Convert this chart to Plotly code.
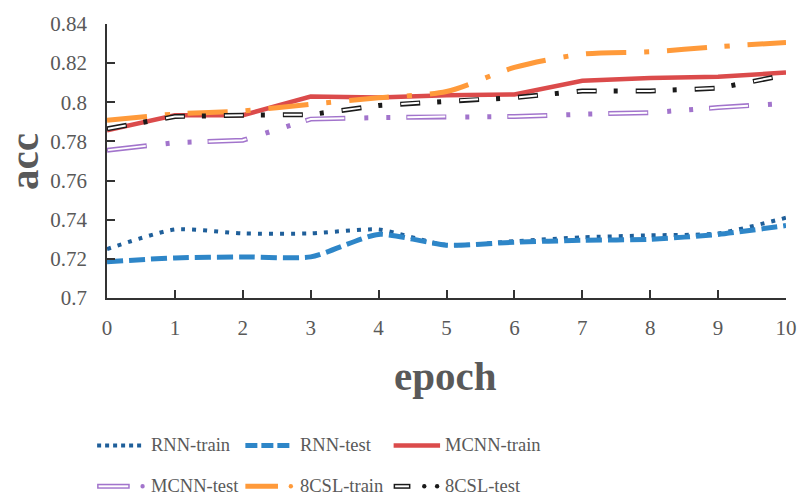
import plotly.graph_objects as go

# ---- data -------------------------------------------------------------
epochs = list(range(11))
x_tick_text = [str(e) for e in epochs]
y_tick_vals = [0.70, 0.72, 0.74, 0.76, 0.78, 0.80, 0.82, 0.84]
y_tick_text = ["0.7", "0.72", "0.74", "0.76", "0.78", "0.8", "0.82", "0.84"]

series_names = ["RNN-train", "RNN-test", "MCNN-train", "MCNN-test", "8CSL-train", "8CSL-test"]

rnn_train = [0.725, 0.735, 0.733, 0.733, 0.735, 0.727, 0.729, 0.731, 0.732, 0.733, 0.741]
rnn_test = [0.7185, 0.7205, 0.721, 0.721, 0.7325, 0.727, 0.7285, 0.7295, 0.730, 0.7325, 0.737]
mcnn_train = [0.7857, 0.7934, 0.7934, 0.8029, 0.8024, 0.8036, 0.804, 0.811, 0.8124, 0.813, 0.8152]
mcnn_test = [0.7755, 0.7794, 0.7806, 0.7914, 0.7922, 0.7927, 0.7927, 0.7939, 0.7947, 0.7973, 0.7995]
csl_train = [0.7908, 0.794, 0.7956, 0.799, 0.8023, 0.8055, 0.8178, 0.8246, 0.8258, 0.8284, 0.8306]
csl_test = [0.7864, 0.7927, 0.7934, 0.7937, 0.7984, 0.8007, 0.8024, 0.8058, 0.8058, 0.8072, 0.8140]

# ---- styles -----------------------------------------------------------
C_RNN_TRAIN = "#1F5F9A"
C_RNN_TEST = "#2E86C8"
C_MCNN_TRAIN = "#DB4B4B"
C_MCNN_TEST = "#A274CC"
C_CSL_TRAIN = "#FF9A3A"
C_CSL_TEST = "#1A1A1A"
TXT = "#595959"
AXC = "#333333"
SERIF = "Liberation Serif, Times New Roman, serif"

# layout geometry (pixels)
W, H = 809, 499
ML, MR, MT, MB = 107, 15, 23, 201
PW, PH = W - ML - MR, H - MT - MB


def px(xp):
    return (xp - ML) / PW


def py(yp):
    return (MT + PH - yp) / PH


fig = go.Figure()


def add_line(y, color, width, dash, shape="linear", smoothing=1.0):
    fig.add_trace(go.Scatter(
        x=epochs, y=y, mode="lines", showlegend=False, hoverinfo="skip",
        line=dict(color=color, width=width, dash=dash, shape=shape,
                  smoothing=smoothing if shape == "spline" else None),
        cliponaxis=False,
    ))


# RNN
add_line(rnn_train, C_RNN_TRAIN, 4, "4px,7px", "spline", 0.6)
add_line(rnn_test, C_RNN_TEST, 5, "16px,6px", "spline", 0.6)
# MCNN
add_line(mcnn_train, C_MCNN_TRAIN, 4.5, "solid")
add_line(mcnn_test, C_MCNN_TEST, 5, "40px,19px,4px,18px,4px,16px")
add_line(mcnn_test, "white", 2, "0px,1px,38px,62px")
# 8CSL
add_line(csl_train, C_CSL_TRAIN, 5, "40px,18px,5px,18px", "spline", 0.8)
add_line(csl_test, C_CSL_TEST, 5, "20px,17px,4px,18px")
add_line(csl_test, "white", 2, "0px,1px,18px,40px")

# ---- legend (drawn with shapes + text) ----------------------------------
shapes = []
annotations = []


def seg(x0, x1, yy, color, width, dash="solid"):
    shapes.append(dict(type="line", xref="paper", yref="paper",
                       x0=px(x0), x1=px(x1), y0=py(yy), y1=py(yy),
                       line=dict(color=color, width=width, dash=dash)))


def dot(xc, yy, color, r=2.2):
    shapes.append(dict(type="circle", xref="paper", yref="paper",
                       x0=px(xc - r), x1=px(xc + r), y0=py(yy - r), y1=py(yy + r),
                       fillcolor=color, line=dict(width=0)))


row_y = [446, 487]
col_x = [97, 247, 397]
text_x = [149, 300, 447]

# row 1
seg(col_x[0], col_x[0] + 45, row_y[0], C_RNN_TRAIN, 4, "4px,4px")
seg(col_x[1], col_x[1] + 45, row_y[0], C_RNN_TEST, 5, "12px,4px")
seg(col_x[2], col_x[2] + 47, row_y[0], C_MCNN_TRAIN, 4.5)
# row 2
seg(col_x[0], col_x[0] + 33, row_y[1], C_MCNN_TEST, 5)
seg(col_x[0] + 1.5, col_x[0] + 31.5, row_y[1], "white", 2)
dot(col_x[0] + 46, row_y[1], C_MCNN_TEST)
seg(col_x[1], col_x[1] + 33, row_y[1], C_CSL_TRAIN, 5)
dot(col_x[1] + 46, row_y[1], C_CSL_TRAIN)
seg(col_x[2], col_x[2] + 17, row_y[1], C_CSL_TEST, 5)
seg(col_x[2] + 1.5, col_x[2] + 15.5, row_y[1], "white", 2)
dot(col_x[2] + 31, row_y[1], C_CSL_TEST)
dot(col_x[2] + 44, row_y[1], C_CSL_TEST)

for i, name in enumerate(series_names):
    r, c = divmod(i, 3)
    annotations.append(dict(
        text=name, xref="paper", yref="paper", x=px(text_x[c]), y=py(row_y[r]),
        xanchor="left", yanchor="middle", showarrow=False,
        font=dict(family=SERIF, size=18.5, color=TXT)))

# axis titles
annotations.append(dict(
    text="<b>acc</b>", xref="paper", yref="paper", x=px(23), y=py(160.5),
    xanchor="center", yanchor="middle", textangle=-90, showarrow=False,
    font=dict(family=SERIF, size=41, color=TXT)))
annotations.append(dict(
    text="<b>epoch</b>", xref="paper", yref="paper", x=px(449), y=py(376),
    xanchor="center", yanchor="middle", showarrow=False,
    font=dict(family=SERIF, size=41, color=TXT)))

fig.update_layout(
    width=W, height=H,
    margin=dict(l=ML, r=MR, t=MT, b=MB, pad=0),
    paper_bgcolor="white", plot_bgcolor="white",
    showlegend=False,
    shapes=shapes, annotations=annotations,
    xaxis=dict(
        range=[0, 10], tickvals=epochs, ticktext=x_tick_text,
        showgrid=False, zeroline=False,
        showline=True, linecolor=AXC, linewidth=1.5,
        ticks="inside", ticklen=8, tickwidth=1.5, tickcolor=AXC,
        ticklabelstandoff=10,
        tickfont=dict(family=SERIF, size=21, color=TXT),
    ),
    yaxis=dict(
        range=[0.7, 0.84], tickvals=y_tick_vals, ticktext=y_tick_text,
        showgrid=False, zeroline=False,
        showline=True, linecolor=AXC, linewidth=1.5,
        ticks="inside", ticklen=8, tickwidth=1.5, tickcolor=AXC,
        ticklabelstandoff=14,
        tickfont=dict(family=SERIF, size=21, color=TXT),
    ),
)

fig.write_html("out.html")
